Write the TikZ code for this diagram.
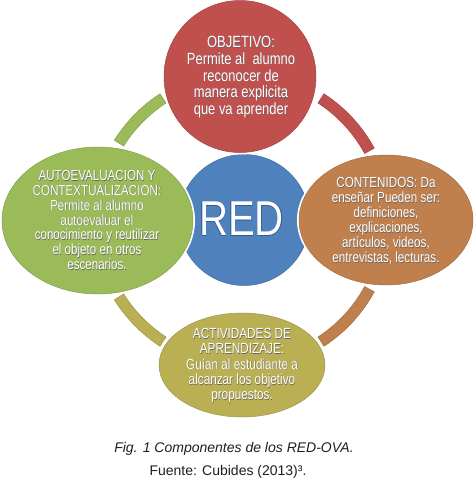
\documentclass[tikz,border=0pt]{standalone}
\usepackage{fontspec}
\usepackage{graphicx}
\setmainfont{Liberation Sans}
\definecolor{cred}{HTML}{C0504D}
\definecolor{cblue}{HTML}{4F81BD}
\definecolor{cgreen}{HTML}{9BBB59}
\definecolor{corange}{HTML}{C0804D}
\definecolor{colive}{HTML}{BAAF52}
\definecolor{rimblue}{HTML}{2F5C97}
\newcommand\rimtext[1]{\leavevmode
 \rlap{\kern-0.6pt\textcolor{rimblue}{#1}}%
 \rlap{\kern0.6pt\textcolor{rimblue}{#1}}%
 \rlap{\raisebox{0.6pt}{\textcolor{rimblue}{#1}}}%
 \rlap{\raisebox{-0.6pt}{\textcolor{rimblue}{#1}}}%
 \textcolor{white}{#1}}
\newcommand\shtext[1]{\leavevmode
 \rlap{\kern0.6pt\raisebox{-0.6pt}{\textcolor{black!60}{#1}}}%
 \textcolor{white}{#1}}
\newcommand\nodetext[3]{\fontsize{#1}{#2}\selectfont
 \scalebox{0.8}[1]{\shtext{\begin{tabular}{@{}c@{}}#3\end{tabular}}}}
\tikzset{
  shapefill/.style={fill=#1, draw=#1!85!black, line width=0.5pt,
    preaction={draw=white, line width=4pt}},
  arcseg/.style={fill=#1, draw=#1!85!black, line width=0.5pt},
  txt/.style={text=white, align=center, inner sep=0pt},
}
\begin{document}
\begin{tikzpicture}[x=1pt,y=-1pt]
\useasboundingbox (0,0) rectangle (476,480);
\fill[white] (0,0) rectangle (476,480);
\coordinate (rc) at (242,220);
% ring segments
\foreach \a/\b/\c in {-123/-148/cgreen, -28.5/-57/cred, 28.5/57/corange, 123/148/colive}{
  \path[arcseg=\c] ([shift={(\a:150.5)}]rc) arc[start angle=\a, end angle=\b, radius=150.5]
     -- ([shift={(\b:139.5)}]rc) arc[start angle=\b, end angle=\a, radius=139.5] -- cycle;
}
% shapes
\path[shapefill=cblue] (244,220) circle[radius=65.5];
\path[shapefill=cred] (240,76.5) circle[radius=76];
\path[shapefill=cgreen] (97.5,220.5) ellipse[x radius=95.5, y radius=73.5];
\path[shapefill=corange] (386,220) ellipse[x radius=87, y radius=65];
\path[shapefill=colive] (242,365) ellipse[x radius=83, y radius=52];
% texts
\node[txt, font=\fontsize{49}{49}\selectfont] (red) at (241.5,219) {\scalebox{0.82}[1]{\rimtext{RED}}};
\node[txt] (objetivo) at (241,78)
  {\nodetext{16.2}{16.5}{OBJETIVO:\\Permite al\ \ alumno\\reconocer de\\manera explicita\\que va aprender}};
\node[txt] (auto) at (97,222.5)
  {\nodetext{14.5}{14.7}{AUTOEVALUACION Y\\CONTEXTUALIZACION:\\Permite al alumno\\autoevaluar el\\conocimiento y reutilizar\\el objeto en otros\\escenarios.}};
\node[txt] (contenidos) at (386,222.5)
  {\nodetext{14.6}{14.9}{CONTENIDOS: Da\\enseñar Pueden ser:\\definiciones,\\explicaciones,\\artículos, videos,\\entrevistas, lecturas.}};
\node[txt] (actividades) at (242,366.5)
  {\nodetext{14.7}{15.1}{ACTIVIDADES DE\\APRENDIZAJE:\\Guían al estudiante a\\alcanzar los objetivo\\propuestos.}};
% caption
\node[text=black!88, inner sep=0pt, font=\itshape\fontsize{14}{16}\selectfont] (cap1) at (234,449)
  {Fig. 1 Componentes de los RED-OVA.};
\node[text=black!88, inner sep=0pt, font=\fontsize{14}{16}\selectfont] (cap2) at (228,472)
  {Fuente: Cubides (2013)³.};
\end{tikzpicture}
\end{document}
